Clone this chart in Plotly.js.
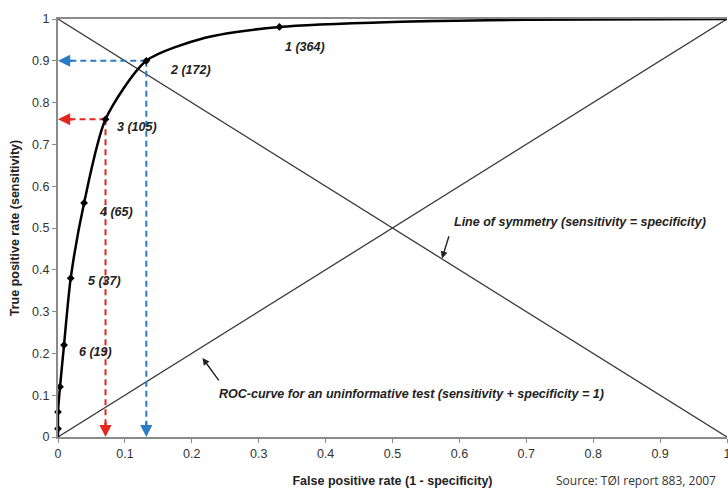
<!DOCTYPE html>
<html><head><meta charset="utf-8">
<script src="https://cdn.plot.ly/plotly-3.0.1.min.js"></script>
<style>html,body{margin:0;padding:0;background:#fff;}#chart{width:728px;height:488px;}</style>
</head><body><div id="chart"></div>
<script>
// ROC curve
const curveFPR = [0, 0, 0, 0.003, 0.009, 0.019, 0.039, 0.071, 0.132, 0.22, 0.331, 0.5, 0.7, 1];
const curveTPR = [0, 0.02, 0.06, 0.12, 0.22, 0.38, 0.56, 0.76, 0.90, 0.955, 0.981, 0.993, 0.998, 1];
// marked cut-off points
const pointFPR = [0, 0, 0.003, 0.009, 0.019, 0.039, 0.071, 0.132, 0.331];
const pointTPR = [0.02, 0.06, 0.12, 0.22, 0.38, 0.56, 0.76, 0.90, 0.981];
// labelled points
const labelFPR = [0.331, 0.132, 0.071, 0.039, 0.019, 0.009];
const labelTPR = [0.981, 0.90, 0.76, 0.56, 0.38, 0.22];
const labelText = ["1 (364)", "2 (172)", "3 (105)", "4 (65)", "5 (37)", "6 (19)"];
const labelShiftX = [26, 44, 31, 32, 34, 31];
const labelShiftY = [-20, -9, -8, -9, -3, -7];
// reference lines
const diagX = [0, 1];
const diagUp = [0, 1];
const diagDown = [1, 0];
// highlighted cut-offs
const blueCut = {fpr: 0.132, tpr: 0.90};
const redCut = {fpr: 0.071, tpr: 0.76};
const ticks = [0, 0.1, 0.2, 0.3, 0.4, 0.5, 0.6, 0.7, 0.8, 0.9, 1];
const tickText = ["0", "0.1", "0.2", "0.3", "0.4", "0.5", "0.6", "0.7", "0.8", "0.9", "1"];

const BLUE = '#2b7bc4', RED = '#e5261f';
const lineStyle = {color: '#3a3a3a', width: 1.3};

function dashed(cut, color) {
  return [
    {x: [cut.fpr, 0.012], y: [cut.tpr, cut.tpr], mode: 'lines', line: {color: color, width: 2, dash: '6px,4px'}, hoverinfo: 'skip', cliponaxis: false},
    {x: [cut.fpr, cut.fpr], y: [cut.tpr, 0.025], mode: 'lines', line: {color: color, width: 2, dash: '6px,4px'}, hoverinfo: 'skip', cliponaxis: false}
  ];
}

const traces = [
  {x: diagX, y: diagUp, mode: 'lines', line: lineStyle, hoverinfo: 'skip'},
  {x: diagX, y: diagDown, mode: 'lines', line: lineStyle, hoverinfo: 'skip'},
  ...dashed(blueCut, BLUE),
  ...dashed(redCut, RED),
  {x: curveFPR, y: curveTPR, mode: 'lines', line: {color: '#000', width: 2.5, shape: 'spline', smoothing: 0.7}, hoverinfo: 'skip', cliponaxis: false},
  {x: pointFPR, y: pointTPR, mode: 'markers', marker: {symbol: 'diamond', size: 6, color: '#000'}, hoverinfo: 'skip', cliponaxis: false}
];

const labelFont = {family: 'Liberation Sans, Arial, sans-serif', size: 12.5, color: '#222', weight: 'bold', style: 'italic'};
const annotations = labelText.map((t, i) => ({
  x: labelFPR[i], y: labelTPR[i], text: t, showarrow: false,
  xshift: labelShiftX[i], yshift: labelShiftY[i], font: labelFont
}));

function head(cut, color, horizontal) {
  return {
    x: horizontal ? 0 : cut.fpr, y: horizontal ? cut.tpr : 0,
    ax: horizontal ? 16 : 0, ay: horizontal ? 0 : -16,
    text: '', showarrow: true, arrowhead: 2, arrowsize: 1.1, arrowwidth: 2.2, arrowcolor: color, standoff: 0
  };
}
annotations.push(head(blueCut, BLUE, true), head(blueCut, BLUE, false), head(redCut, RED, true), head(redCut, RED, false));

annotations.push(
  {x: 0.781, y: 0.514, text: 'Line of symmetry (sensitivity = specificity)', showarrow: false, font: labelFont},
  {x: 0.574, y: 0.427, ax: 0.585, ay: 0.484, axref: 'x', ayref: 'y', text: '', showarrow: true, arrowhead: 2, arrowsize: 1, arrowwidth: 1.4, arrowcolor: '#222', standoff: 0},
  {x: 0.528, y: 0.103, text: 'ROC-curve for an uninformative test (sensitivity + specificity = 1)', showarrow: false, font: labelFont},
  {x: 0.216, y: 0.189, ax: 0.242, ay: 0.132, axref: 'x', ayref: 'y', text: '', showarrow: true, arrowhead: 2, arrowsize: 1, arrowwidth: 1.4, arrowcolor: '#222', standoff: 0},
  {xref: 'paper', yref: 'paper', x: 1, y: -0.103, xanchor: 'right', yanchor: 'middle', xshift: -9, text: 'Source: TØI report 883, 2007', showarrow: false,
   font: {family: 'Open Sans, sans-serif', size: 12, color: '#333'}}
);

const tickFont = {family: 'Liberation Sans, Arial, sans-serif', size: 12.5, color: '#333'};
const layout = {
  width: 728, height: 488,
  margin: {l: 58, r: 1, t: 19, b: 51},
  paper_bgcolor: '#fff', plot_bgcolor: '#fff',
  showlegend: false,
  xaxis: {
    range: [0, 1], tickvals: ticks, ticktext: tickText, showgrid: false, zeroline: false,
    showline: true, linecolor: '#8a8a8a', linewidth: 2, mirror: true,
    ticks: 'outside', ticklen: 4, tickcolor: '#8a8a8a', tickfont: tickFont, ticklabeloverflow: 'allow',
    title: {text: 'False positive rate (1 - specificity)', standoff: 18, font: {family: 'Liberation Sans, Arial, sans-serif', size: 12.5, color: '#222', weight: 'bold'}}
  },
  yaxis: {
    range: [0, 1], tickvals: ticks, ticktext: tickText, showgrid: false, zeroline: false,
    showline: true, linecolor: '#8a8a8a', linewidth: 2,
    ticks: 'outside', ticklen: 4, tickcolor: '#8a8a8a', tickfont: tickFont,
    title: {text: 'True positive rate (sensitivity)', standoff: 10, font: {family: 'Liberation Sans, Arial, sans-serif', size: 12.5, color: '#222', weight: 'bold'}}
  },
  annotations: annotations
};

Plotly.newPlot('chart', traces, layout, {displayModeBar: false, staticPlot: true});
</script>
</body></html>
